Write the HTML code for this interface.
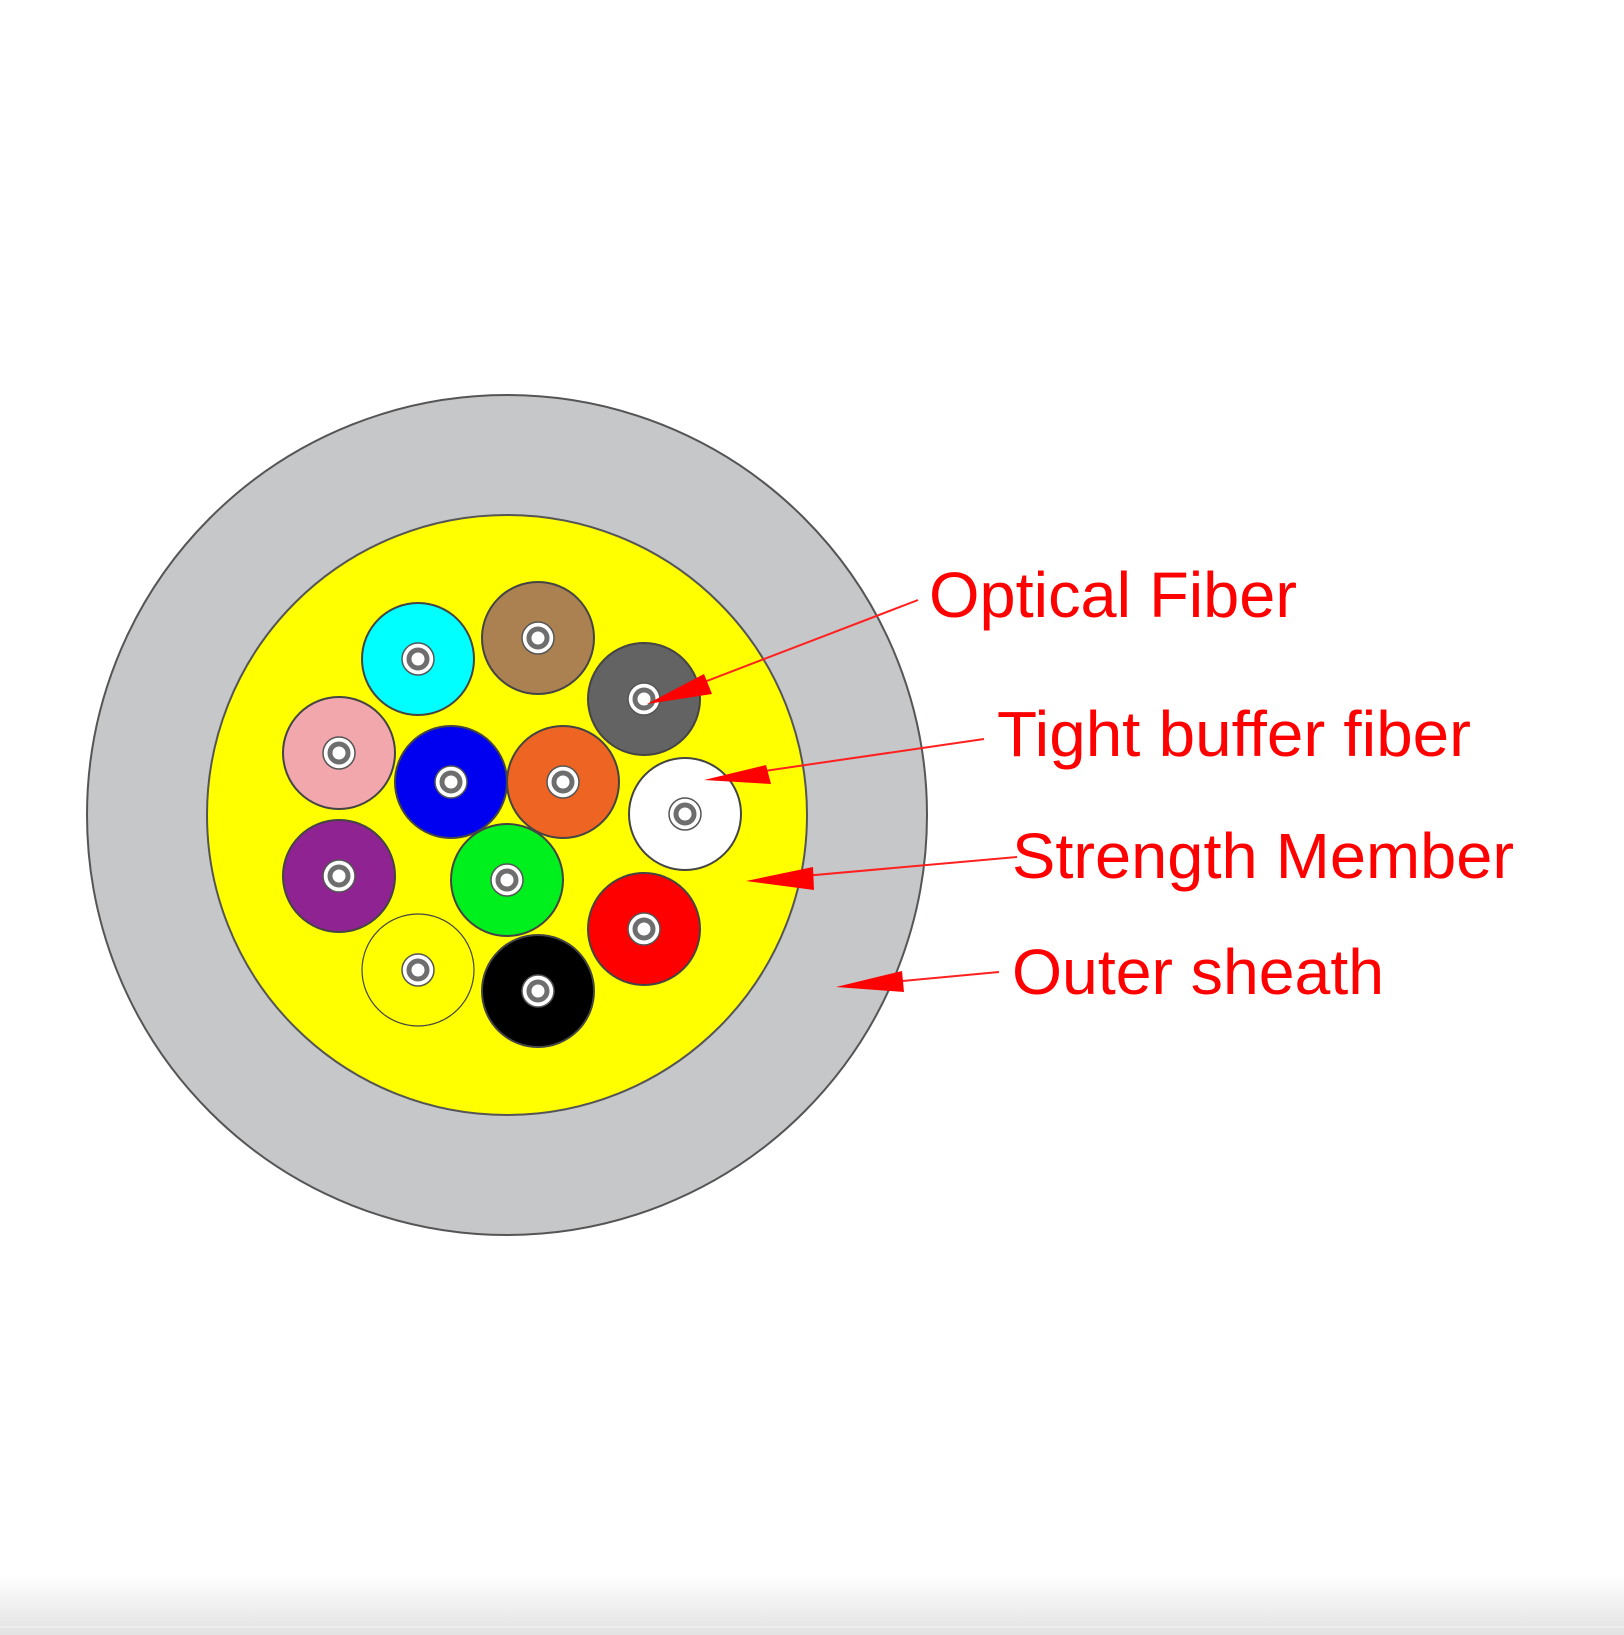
<!DOCTYPE html>
<html><head><meta charset="utf-8"><style>
html,body{margin:0;padding:0;background:#fff}
svg{display:block}
</style></head><body>
<svg width="1624" height="1635" viewBox="0 0 1624 1635" xmlns="http://www.w3.org/2000/svg">
<defs>
<linearGradient id="bg" x1="0" y1="0" x2="0" y2="1">
<stop offset="0" stop-color="#ffffff"/><stop offset="1" stop-color="#e2e2e2"/>
</linearGradient>
<g id="core">
<circle r="16" fill="#fff" stroke="#555" stroke-width="1.5"/>
<circle r="9" fill="#fff" stroke="#6e6e6e" stroke-width="5"/>
</g>
</defs>
<rect x="0" y="0" width="1624" height="1635" fill="#fff"/>
<rect x="0" y="1575" width="1624" height="60" fill="url(#bg)"/>
<rect x="0" y="1626" width="1624" height="2" fill="#eeeeee"/>

<circle cx="507" cy="815" r="420" fill="#c6c7c9" stroke="#555" stroke-width="2"/>
<circle cx="507" cy="815" r="300" fill="#ffff00" stroke="#555" stroke-width="2"/>

<g stroke="#444" stroke-width="2">
<circle cx="418" cy="659" r="56" fill="#00ffff"/>
<circle cx="538" cy="638" r="56" fill="#ab8152"/>
<circle cx="644" cy="699" r="56" fill="#636363"/>
<circle cx="339" cy="753" r="56" fill="#f2a7ad"/>
<circle cx="451" cy="782" r="56" fill="#0000f0"/>
<circle cx="563" cy="782" r="56" fill="#ee6422"/>
<circle cx="685" cy="814" r="56" fill="#ffffff"/>
<circle cx="339" cy="876" r="56" fill="#8f2391"/>
<circle cx="507" cy="880" r="56" fill="#00f01e"/>
<circle cx="644" cy="929" r="56" fill="#ff0000"/>
<circle cx="418" cy="970" r="56" fill="#ffff00" stroke-width="1.2"/>
<circle cx="538" cy="991" r="56" fill="#000000"/>
</g>
<use href="#core" x="418" y="659"/>
<use href="#core" x="538" y="638"/>
<use href="#core" x="644" y="699"/>
<use href="#core" x="339" y="753"/>
<use href="#core" x="451" y="782"/>
<use href="#core" x="563" y="782"/>
<use href="#core" x="685" y="814"/>
<use href="#core" x="339" y="876"/>
<use href="#core" x="507" y="880"/>
<use href="#core" x="644" y="929"/>
<use href="#core" x="418" y="970"/>
<use href="#core" x="538" y="991"/>

<g stroke="#ff2020" stroke-width="2" fill="none">
<line x1="918" y1="600" x2="660" y2="699"/>
<line x1="984" y1="739" x2="730" y2="776"/>
<line x1="1017" y1="857" x2="770" y2="879"/>
<line x1="999" y1="972" x2="860" y2="985"/>
</g>
<g fill="#ff0000">
<polygon points="647,704 704,674 712,694"/>
<polygon points="704,780 766,765 771,784"/>
<polygon points="746,881 813,867 814,890"/>
<polygon points="836,987 902,971 904,992"/>
</g>

<g fill="#ff0000" font-family="Liberation Sans, sans-serif" font-size="64">
<text x="929" y="617" textLength="368" lengthAdjust="spacingAndGlyphs">Optical Fiber</text>
<text x="997" y="756" textLength="474" lengthAdjust="spacingAndGlyphs">Tight buffer fiber</text>
<text x="1012" y="878" textLength="502" lengthAdjust="spacingAndGlyphs">Strength Member</text>
<text x="1012" y="994" textLength="372" lengthAdjust="spacingAndGlyphs">Outer sheath</text>
</g>
</svg>
</body></html>
